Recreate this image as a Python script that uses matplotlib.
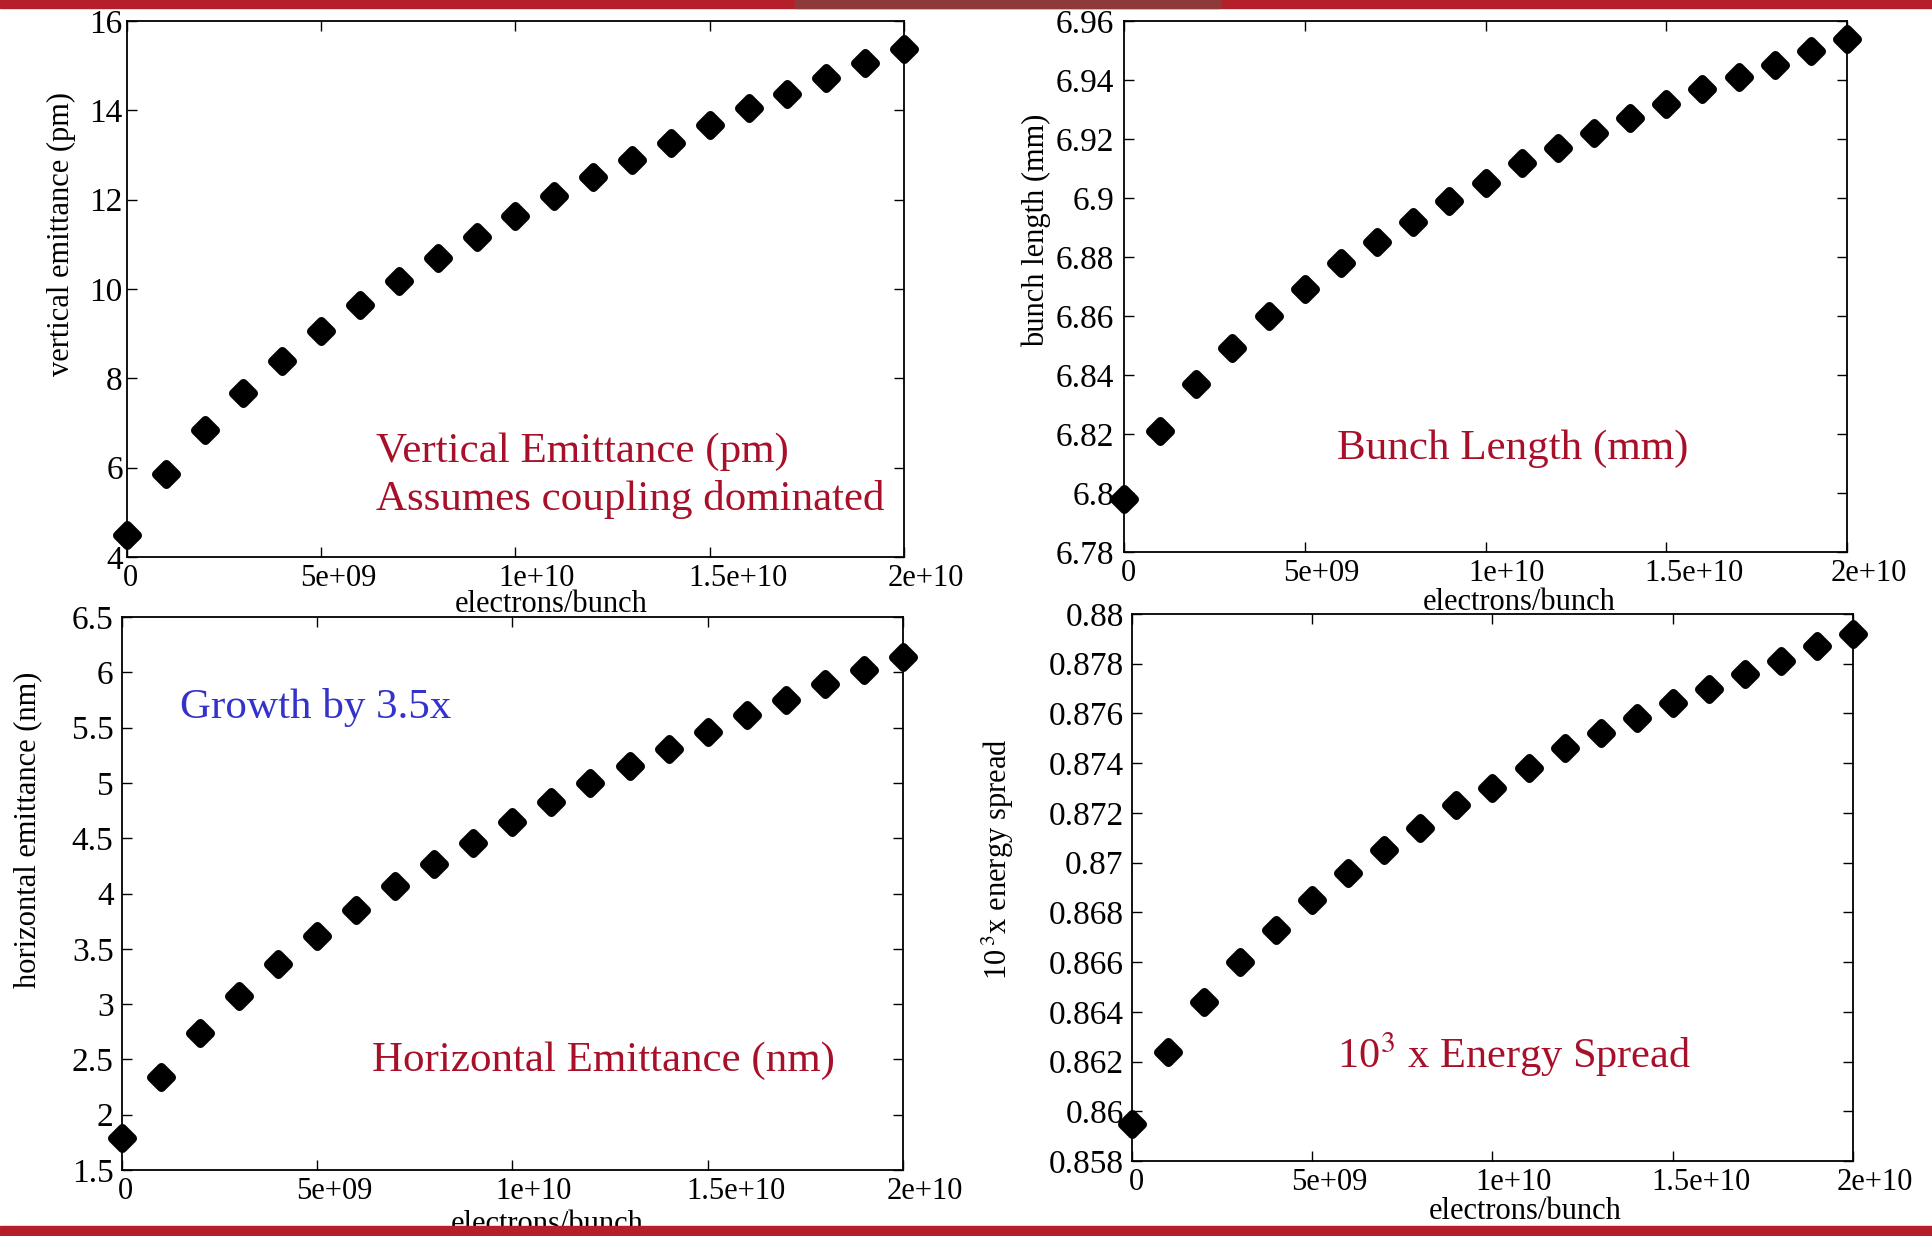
import numpy as np
import matplotlib
matplotlib.use("Agg")
import matplotlib.pyplot as plt
from matplotlib.markers import MarkerStyle
from matplotlib.patches import Rectangle
from matplotlib.transforms import ScaledTranslation

plt.rcParams['font.family'] = ['Liberation Serif', 'DejaVu Serif']
plt.rcParams['mathtext.fontset'] = 'stix'

# electrons per bunch, 0 .. 2e10 in steps of 1e9
electrons = np.arange(21) * 1e9

vert_emit = [4.50, 5.85, 6.84, 7.67, 8.39, 9.05, 9.63, 10.18, 10.70, 11.17, 11.64,
             12.08, 12.50, 12.88, 13.27, 13.66, 14.04, 14.37, 14.73, 15.06, 15.37]
bunch_len = [6.798, 6.821, 6.837, 6.849, 6.860, 6.869, 6.878, 6.885, 6.892, 6.899, 6.905,
             6.912, 6.917, 6.922, 6.927, 6.932, 6.937, 6.941, 6.945, 6.950, 6.954]
horiz_emit = [1.79, 2.34, 2.74, 3.07, 3.36, 3.62, 3.85, 4.07, 4.27, 4.46, 4.65,
              4.83, 5.00, 5.15, 5.31, 5.46, 5.61, 5.75, 5.89, 6.02, 6.14]
energy_spread = [0.8595, 0.8624, 0.8644, 0.8660, 0.8673, 0.8685, 0.8696, 0.8705, 0.8714,
                 0.8723, 0.8730, 0.8738, 0.8746, 0.8752, 0.8758, 0.8764, 0.8770, 0.8776,
                 0.8781, 0.8787, 0.8792]

x_ticks = [0, 5e9, 1e10, 1.5e10, 2e10]
x_ticklabels = ['0', '5e+09', '1e+10', '1.5e+10', '2e+10']
# the original renderer spreads the x labels a bit wider than the ticks (pixels)
x_label_shift = [4, 17, 21, 28, 22]

red = '#a8102a'
blue = '#3333cc'
bar_red = '#b51f2a'

fig = plt.figure(figsize=(19.32, 12.36), dpi=100)

# (rect, data, ylim, yticks, yticklabels, ylabel, ylabel coords, xlabel coords, ypad)
panels = [
    ([0.0657, 0.5494, 0.4022, 0.4337], vert_emit, (4, 16),
     [4, 6, 8, 10, 12, 14, 16], ['4', '6', '8', '10', '12', '14', '16'],
     'vertical emittance (pm)', (-0.084, 0.603), (0.546, -0.088), 3),
    ([0.5818, 0.5534, 0.3742, 0.4296], bunch_len, (6.78, 6.96),
     [6.78, 6.80, 6.82, 6.84, 6.86, 6.88, 6.90, 6.92, 6.94, 6.96],
     ['6.78', '6.8', '6.82', '6.84', '6.86', '6.88', '6.9', '6.92', '6.94', '6.96'],
     'bunch length (mm)', (-0.121, 0.605), (0.546, -0.096), 7),
    ([0.0631, 0.0534, 0.4042, 0.4474], horiz_emit, (1.5, 6.5),
     [1.5, 2, 2.5, 3, 3.5, 4, 4.5, 5, 5.5, 6, 6.5],
     ['1.5', '2', '2.5', '3', '3.5', '4', '4.5', '5', '5.5', '6', '6.5'],
     'horizontal emittance (nm)', (-0.120, 0.615), (0.545, -0.099), 6),
    ([0.5859, 0.0607, 0.3732, 0.4426], energy_spread, (0.858, 0.880),
     [0.858, 0.860, 0.862, 0.864, 0.866, 0.868, 0.870, 0.872, 0.874, 0.876, 0.878, 0.880],
     ['0.858', '0.86', '0.862', '0.864', '0.866', '0.868', '0.87', '0.872', '0.874',
      '0.876', '0.878', '0.88'],
     r'10$\,^{3}$x energy spread', (-0.186, 0.552), (0.546, -0.093), 6),
]

marker = MarkerStyle('D', joinstyle='round')
axes = []
for rect, yvals, ylim, yt, ytl, ylab, ylc, xlc, ypad in panels:
    ax = fig.add_axes(rect)
    ax.plot(electrons, yvals, linestyle='none', marker=marker, markersize=10.5,
            color='black', markeredgewidth=6.5, clip_on=False, zorder=5)
    ax.set_xlim(0, 2e10)
    ax.set_ylim(*ylim)
    ax.set_xticks(x_ticks)
    ax.set_xticklabels(x_ticklabels)
    ax.set_yticks(yt)
    ax.set_yticklabels(ytl)
    ax.tick_params(direction='in', length=7, width=1, top=True, right=True)
    ax.tick_params(axis='x', labelsize=22, pad=5)
    ax.tick_params(axis='y', labelsize=24, pad=ypad)
    for lbl, dx in zip(ax.get_xticklabels(), x_label_shift):
        lbl.set_transform(lbl.get_transform() + ScaledTranslation(dx / 100, 0, fig.dpi_scale_trans))
    for s in ax.spines.values():
        s.set_linewidth(1.3)
    ax.set_ylabel(ylab, fontsize=22)
    ax.set_xlabel('electrons/bunch', fontsize=22)
    ax.yaxis.label.set_va('center')
    ax.xaxis.label.set_va('center')
    ax.yaxis.set_label_coords(*ylc)
    ax.xaxis.set_label_coords(*xlc)
    axes.append(ax)

ax1, ax2, ax3, ax4 = axes
ax1.text(0.320, 0.1515, 'Vertical Emittance (pm)\nAssumes coupling dominated',
         transform=ax1.transAxes, color=red, fontsize=31, va='center', ha='left',
         linespacing=1.28)
ax2.text(0.295, 0.194, 'Bunch Length (mm)', transform=ax2.transAxes,
         color=red, fontsize=31, va='center', ha='left')
ax3.text(0.074, 0.836, 'Growth by 3.5x', transform=ax3.transAxes,
         color=blue, fontsize=31, va='center', ha='left')
ax3.text(0.320, 0.198, 'Horizontal Emittance (nm)', transform=ax3.transAxes,
         color=red, fontsize=31, va='center', ha='left')
ax4.text(0.284, 0.194, r'10$^{3}$ x Energy Spread', transform=ax4.transAxes,
         color=red, fontsize=30.5, va='center', ha='left')

# slide decoration: red bands at top and bottom
fig.patches.append(Rectangle((0, 1 - 8 / 1236), 1, 8 / 1236, transform=fig.transFigure,
                             color=bar_red, zorder=10))
fig.patches.append(Rectangle((795 / 1932, 1 - 8 / 1236), 425 / 1932, 8 / 1236,
                             transform=fig.transFigure, color='#8e3a3a', zorder=11))
fig.patches.append(Rectangle((0, 0), 1, 10 / 1236, transform=fig.transFigure,
                             color=bar_red, zorder=10))

fig.savefig('out.png', dpi=100)
